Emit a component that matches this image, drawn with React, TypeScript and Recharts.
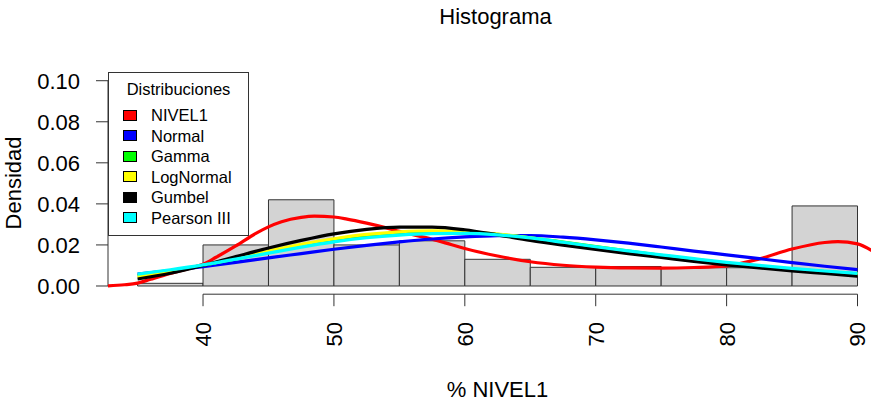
import React from 'react';
import { ComposedChart, Line, XAxis, YAxis, ReferenceArea, ReferenceLine } from 'recharts';

// Histogram bins
const binStart = [35, 40, 45, 50, 55, 60, 65, 70, 75, 80, 85];
const binEnd = [40, 45, 50, 55, 60, 65, 70, 75, 80, 85, 90];
const binDensity = [0.0013, 0.020, 0.042, 0.020, 0.022, 0.013, 0.0091, 0.0095, 0.0089, 0.0089, 0.039];

// Fitted distributions
const fitX = [35, 37.5, 40, 42.5, 45, 47.5, 50, 52.5, 55, 57.5, 60, 62.5, 65, 67.5, 70, 72.5, 75, 77.5, 80, 82.5, 85, 87.5, 90];
const normalY = [0.0058, 0.0075, 0.0094, 0.0115, 0.0137, 0.0158, 0.0179, 0.0198, 0.0215, 0.0229, 0.0239, 0.0245, 0.0246, 0.0238, 0.0225, 0.0209, 0.0190, 0.0170, 0.0152, 0.0133, 0.0114, 0.0096, 0.0080];
const gammaY = [0.0050, 0.0073, 0.0101, 0.0132, 0.0165, 0.0196, 0.0222, 0.0242, 0.0255, 0.0261, 0.0260, 0.0251, 0.0235, 0.0214, 0.0192, 0.0170, 0.0149, 0.0130, 0.0112, 0.0096, 0.0082, 0.0070, 0.0059];
const lognormalY = [0.0045, 0.0070, 0.0101, 0.0135, 0.0170, 0.0203, 0.0230, 0.0251, 0.0264, 0.0269, 0.0265, 0.0253, 0.0234, 0.0211, 0.0188, 0.0166, 0.0146, 0.0127, 0.0110, 0.0094, 0.0080, 0.0068, 0.0057];
const gumbelY = [0.0034, 0.0062, 0.0100, 0.0143, 0.0185, 0.0222, 0.0254, 0.0276, 0.0287, 0.0287, 0.0274, 0.0249, 0.0222, 0.0199, 0.0178, 0.0158, 0.0139, 0.0120, 0.0103, 0.0088, 0.0074, 0.0061, 0.0048];
const pearsonY = [0.0058, 0.0079, 0.0103, 0.0131, 0.0160, 0.0189, 0.0215, 0.0235, 0.0248, 0.0255, 0.0256, 0.0249, 0.0234, 0.0213, 0.0191, 0.0171, 0.0152, 0.0133, 0.0115, 0.0100, 0.0086, 0.0073, 0.0061];

// Empirical density of NIVEL1
const kdeX = [32.74, 34, 35, 36, 37.5, 39, 40, 41, 42.5, 44, 45, 46, 47.5, 48.5, 50, 51, 52.5, 54, 55, 57.5, 59, 60, 62.5, 65, 67.5, 70, 72.5, 75, 77.5, 80, 82.5, 85, 87.5, 88.5, 90, 91.1];
const nivel1Y = [0.0001, 0.0006, 0.0014, 0.0033, 0.0061, 0.0087, 0.0106, 0.0140, 0.0195, 0.0255, 0.0288, 0.0313, 0.0334, 0.0340, 0.0336, 0.0326, 0.0306, 0.0283, 0.0266, 0.0228, 0.0201, 0.0183, 0.0146, 0.0118, 0.0101, 0.0092, 0.0088, 0.0087, 0.0090, 0.0098, 0.0132, 0.0180, 0.0212, 0.0216, 0.0205, 0.0172];

const xTicks = [40, 50, 60, 70, 80, 90];
const yTicks = [0, 0.02, 0.04, 0.06, 0.08, 0.1];
const xDomain: [number, number] = [32.74, 92.1];
const yDomain: [number, number] = [-0.004, 0.104];

const legendNames = ['NIVEL1', 'Normal', 'Gamma', 'LogNormal', 'Gumbel', 'Pearson III'];
const legendColors = ['#FF0000', '#0000FF', '#00FF00', '#FFFF00', '#000000', '#00FFFF'];

const FONT = '"Liberation Sans", Arial, sans-serif';

const toPts = (xs: number[], ys: number[]) => xs.map((x, i) => ({ x, y: ys[i] }));

const seriesList = [
  { name: 'NIVEL1', color: '#FF0000', data: toPts(kdeX, nivel1Y) },
  { name: 'Normal', color: '#0000FF', data: toPts(fitX, normalY) },
  { name: 'Gamma', color: '#00FF00', data: toPts(fitX, gammaY) },
  { name: 'LogNormal', color: '#FFFF00', data: toPts(fitX, lognormalY) },
  { name: 'Gumbel', color: '#000000', data: toPts(fitX, gumbelY) },
  { name: 'Pearson III', color: '#00FFFF', data: toPts(fitX, pearsonY) },
];

const XTick = (props: any) => {
  const { x, payload } = props;
  const y = 322;
  return (
    <text
      x={x}
      y={y}
      dy="0.36em"
      transform={`rotate(-90 ${x} ${y})`}
      textAnchor="end"
      fontSize={22}
      fontFamily={FONT}
      fill="#000"
    >
      {payload.value}
    </text>
  );
};

export default function App() {
  return (
    <div style={{ position: 'absolute', left: 0, top: 0, width: 871, height: 403, overflow: 'hidden', background: '#fff', fontFamily: FONT }}>
      <ComposedChart width={885} height={403} margin={{ top: 72.5, right: 0, bottom: 0, left: 0 }}>
        <XAxis
          type="number"
          dataKey="x"
          domain={xDomain}
          allowDataOverflow
          ticks={xTicks}
          interval={0}
          height={108.8}
          axisLine={false}
          tickLine={{ stroke: '#333', strokeWidth: 1 }}
          tickSize={12}
          tick={<XTick />}
        />
        <YAxis
          type="number"
          dataKey="y"
          domain={yDomain}
          allowDataOverflow
          ticks={yTicks}
          interval={0}
          width={108}
          axisLine={false}
          tickLine={{ stroke: '#333', strokeWidth: 1 }}
          tickSize={12}
          tickMargin={16}
          tickFormatter={(v: number) => v.toFixed(2)}
          tick={{ fontSize: 22, fontFamily: FONT, fill: '#000' }}
        />
        {binStart.map((b, i) => (
          <ReferenceArea
            key={'bin' + i}
            x1={b}
            x2={binEnd[i]}
            y1={0}
            y2={binDensity[i]}
            fill="#D3D3D3"
            fillOpacity={1}
            stroke="#333"
            strokeWidth={1}
            ifOverflow="visible"
          />
        ))}
        <ReferenceLine
          segment={[{ x: xDomain[0], y: 0 }, { x: xDomain[0], y: 0.1 }]}
          stroke="#333"
          strokeWidth={1}
          ifOverflow="visible"
        />
        <ReferenceLine
          segment={[{ x: 40, y: yDomain[0] }, { x: 90, y: yDomain[0] }]}
          stroke="#333"
          strokeWidth={1}
          ifOverflow="visible"
        />
        {seriesList.map((s) => (
          <Line
            key={s.name}
            data={s.data}
            dataKey="y"
            name={s.name}
            type="monotone"
            stroke={s.color}
            strokeWidth={3.2}
            dot={false}
            activeDot={false}
            isAnimationActive={false}
          />
        ))}
      </ComposedChart>

      {/* Title */}
      <div style={{ position: 'absolute', left: 495.5, top: 4, transform: 'translateX(-50%)', fontSize: 22, lineHeight: '26px', whiteSpace: 'nowrap', color: '#000' }}>
        Histograma
      </div>
      {/* X axis title */}
      <div style={{ position: 'absolute', left: 497.5, top: 377, transform: 'translateX(-50%)', fontSize: 22, lineHeight: '26px', whiteSpace: 'nowrap', color: '#000' }}>
        % NIVEL1
      </div>
      {/* Y axis title */}
      <div style={{ position: 'absolute', left: 13.5, top: 183, transform: 'translate(-50%, -50%) rotate(-90deg)', fontSize: 22, lineHeight: '22px', whiteSpace: 'nowrap', color: '#000' }}>
        Densidad
      </div>

      {/* Legend */}
      <div style={{ position: 'absolute', left: 108, top: 72, width: 141, height: 164, boxSizing: 'border-box', border: '1px solid #333', background: '#fff' }}>
        <div style={{ position: 'absolute', left: 0, width: 139, top: 6, textAlign: 'center', fontSize: 16.5, lineHeight: '20px', whiteSpace: 'nowrap', color: '#000' }}>
          Distribuciones
        </div>
        {legendNames.map((n, i) => {
          const cy = 42 + i * 20.5;
          return (
            <React.Fragment key={n}>
              <div style={{ position: 'absolute', left: 14, top: cy - 5.5, width: 14, height: 11, boxSizing: 'border-box', border: '1px solid #000', background: legendColors[i] }} />
              <div style={{ position: 'absolute', left: 42, top: cy - 10, fontSize: 16.5, lineHeight: '20px', whiteSpace: 'nowrap', color: '#000' }}>
                {n}
              </div>
            </React.Fragment>
          );
        })}
      </div>
    </div>
  );
}
